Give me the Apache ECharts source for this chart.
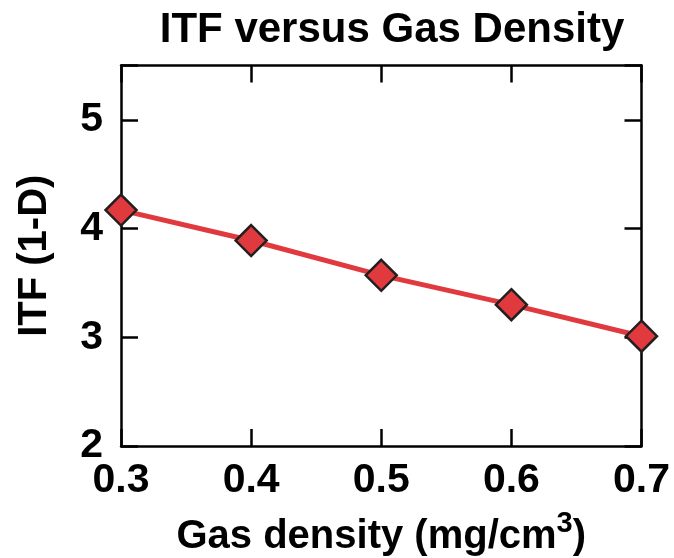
<!DOCTYPE html>
<html>
<head>
<meta charset="utf-8">
<script src="https://cdn.jsdelivr.net/npm/echarts@6/dist/echarts.min.js"></script>
<style>
  html, body { margin: 0; padding: 0; background: #fff; }
  #chart { width: 674px; height: 558px; }
</style>
</head>
<body>
<div id="chart"></div>
<script>
// values
const gasDensity = [0.3, 0.4, 0.5, 0.6, 0.7];
const itfValues = [4.17, 3.89, 3.57, 3.30, 3.01];

const FONT = "'Liberation Sans', Arial, Helvetica, sans-serif";
const lineColor = '#e0393e';

const chart = echarts.init(document.getElementById('chart'), null, { renderer: 'canvas' });

function boxAxis(extra) {
  return Object.assign({
    axisLine: { show: true, lineStyle: { color: '#000', width: 2.5 } },
    axisTick: { show: true, inside: true, length: 17, lineStyle: { color: '#000', width: 2.5 } },
    splitLine: { show: false }
  }, extra);
}

const option = {
  animation: false,
  title: {
    text: 'ITF versus Gas Density',
    left: 387,
    textAlign: 'center',
    top: 4,
    textStyle: { fontFamily: FONT, fontWeight: 'bold', fontSize: 42, color: '#000' }
  },
  grid: { left: 121, right: 32.5, top: 65.5, bottom: 112, outerBoundsMode: 'none', containLabel: false },
  xAxis: [
    boxAxis({
      type: 'value', min: 0.3, max: 0.7, interval: 0.1, position: 'bottom',
      name: '{a|Gas density (mg/cm}{s|3}{a|)}',
      nameLocation: 'middle', nameGap: 63,
      nameTextStyle: {
        rich: {
          a: { fontFamily: FONT, fontWeight: 'bold', fontSize: 40, lineHeight: 48, color: '#000', verticalAlign: 'bottom' },
          s: { fontFamily: FONT, fontWeight: 'bold', fontSize: 29, lineHeight: 29, color: '#000', verticalAlign: 'top' }
        }
      },
      axisLabel: {
        margin: 14, fontFamily: FONT, fontWeight: 'bold', fontSize: 41, color: '#000',
        formatter: v => v.toFixed(1)
      }
    }),
    boxAxis({
      type: 'value', min: 0.3, max: 0.7, interval: 0.1, position: 'top',
      axisLabel: { show: false }
    })
  ],
  yAxis: [
    boxAxis({
      type: 'value', min: 2, max: 5.5, interval: 1, position: 'left',
      name: 'ITF (1-D)', nameLocation: 'middle', nameGap: 66,
      nameTextStyle: { fontFamily: FONT, fontWeight: 'bold', fontSize: 40, color: '#000' },
      axisLabel: {
        margin: 18, fontFamily: FONT, fontWeight: 'bold', fontSize: 41, color: '#000',
        formatter: v => (v % 1 === 0 ? String(v) : '')
      }
    }),
    boxAxis({
      type: 'value', min: 2, max: 5.5, interval: 1, position: 'right',
      axisLabel: { show: false }
    })
  ],
  series: [{
    type: 'line',
    xAxisIndex: 0,
    yAxisIndex: 0,
    data: gasDensity.map((x, i) => [x, itfValues[i]]),
    clip: false,
    symbol: 'diamond',
    symbolSize: 31,
    lineStyle: { color: lineColor, width: 5 },
    itemStyle: { color: lineColor, borderColor: '#231f20', borderWidth: 2.5 },
    z: 5
  }]
};

chart.setOption(option);
</script>
</body>
</html>
